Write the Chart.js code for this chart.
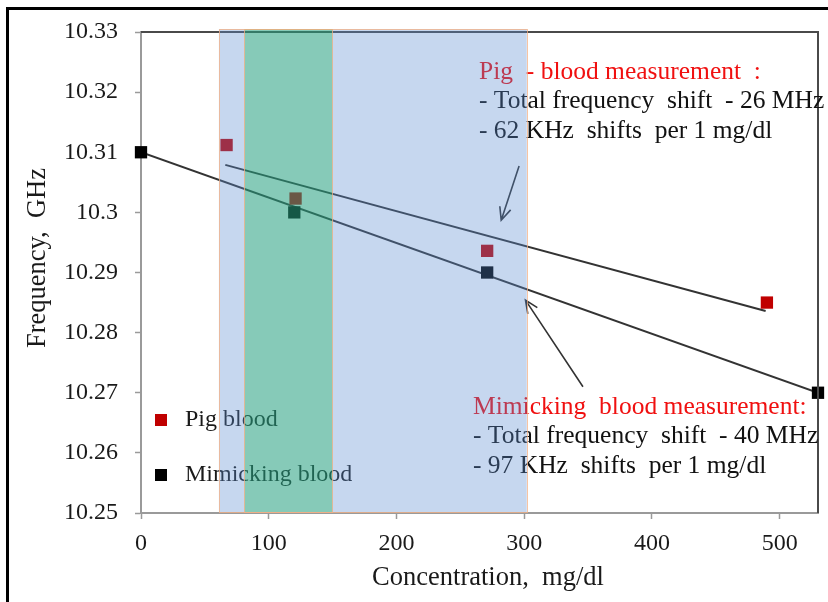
<!DOCTYPE html>
<html>
<head>
<meta charset="utf-8">
<title>Frequency vs concentration</title>
<script src="https://cdn.jsdelivr.net/npm/chart.js@4.4.1/dist/chart.umd.min.js"></script>
<style>
  html, body { margin: 0; padding: 0; background: #fff; }
  #wrap { width: 828px; height: 602px; }
</style>
</head>
<body>
<div id="wrap"><canvas id="freqChart" width="828" height="602"></canvas></div>
<script>
  "use strict";

  // measured points
  var concPig = [67, 121, 271, 490];
  var freqPig = [10.3112, 10.3023, 10.2936, 10.2850];
  var concMimic = [0, 120, 271, 530];
  var freqMimic = [10.31, 10.30, 10.29, 10.27];

  // linear fits (end points)
  var pigFitConc = [66, 489];
  var pigFitFreq = [10.3079, 10.2836];
  var mimicFitConc = [0, 530];
  var mimicFitFreq = [10.31, 10.27];

  // shaded concentration ranges
  var rangeWide = [61, 302];
  var rangeNarrow = [81, 150];

  // axes
  var xTicks = [0, 100, 200, 300, 400, 500];
  var yTicks = [10.25, 10.26, 10.27, 10.28, 10.29, 10.30, 10.31, 10.32, 10.33];

  // arrows: [tail conc, tail freq, tip conc, tip freq]
  var pigArrow = [296, 10.3077, 282, 10.2987];
  var mimicArrow = [346, 10.2710, 301, 10.2854];

  var pigNote = ["Pig  - blood measurement  :", "- Total frequency  shift  - 26 MHz", "- 62 KHz  shifts  per 1 mg/dl"];
  var mimicNote = ["Mimicking  blood measurement:", "- Total frequency  shift  - 40 MHz", "- 97 KHz  shifts  per 1 mg/dl"];

  var SERIF = "'Liberation Serif', 'Times New Roman', serif";

  function pts(xs, ys) {
    return xs.map(function (x, i) { return { x: x, y: ys[i] }; });
  }

  function arrow(ctx, x0, y0, x1, y1) {
    var a = Math.atan2(y1 - y0, x1 - x0), len = 14, spread = 0.42;
    ctx.beginPath();
    ctx.moveTo(x0, y0);
    ctx.lineTo(x1, y1);
    ctx.moveTo(x1 - len * Math.cos(a - spread), y1 - len * Math.sin(a - spread));
    ctx.lineTo(x1, y1);
    ctx.lineTo(x1 - len * Math.cos(a + spread), y1 - len * Math.sin(a + spread));
    ctx.stroke();
  }

  var decor = {
    id: "decor",
    beforeDraw: function (chart) {
      var ctx = chart.ctx;
      ctx.save();
      ctx.fillStyle = "#fff";
      ctx.fillRect(0, 0, chart.width, chart.height);
      ctx.strokeStyle = "#000";
      ctx.lineWidth = 3;
      ctx.strokeRect(7.5, 8.5, chart.width + 20, chart.height + 20);
      ctx.restore();
    },
    afterDatasetsDraw: function (chart) {
      var ctx = chart.ctx, a = chart.chartArea;
      var xs = chart.scales.x, ys = chart.scales.y;
      ctx.save();

      // top and right frame
      ctx.strokeStyle = "#4a4a4a";
      ctx.lineWidth = 2;
      ctx.beginPath();
      ctx.moveTo(a.left, a.top);
      ctx.lineTo(a.right, a.top);
      ctx.lineTo(a.right, a.bottom);
      ctx.stroke();

      // axis titles
      ctx.fillStyle = "#1a1a1a";
      ctx.font = "26.5px " + SERIF;
      ctx.textAlign = "center";
      ctx.textBaseline = "middle";
      ctx.fillText("Concentration,  mg/dl", 488, 578);
      ctx.save();
      ctx.translate(38, 258);
      ctx.rotate(-Math.PI / 2);
      ctx.fillText("Frequency,  GHz", 0, 0);
      ctx.restore();

      // legend
      ctx.font = "24px " + SERIF;
      ctx.textAlign = "left";
      ctx.fillStyle = "#c00000";
      ctx.fillRect(a.left + 14, 414, 12, 12);
      ctx.fillStyle = "#000";
      ctx.fillRect(a.left + 14, 469, 12, 12);
      ctx.fillStyle = "#1a1a1a";
      ctx.fillText("Pig blood", a.left + 44, 420);
      ctx.fillText("Mimicking blood", a.left + 44, 475);

      // notes
      function note(lines, x, y) {
        ctx.font = "25.5px " + SERIF;
        lines.forEach(function (t, i) {
          ctx.fillStyle = i === 0 ? "#f01010" : "#111";
          ctx.fillText(t, x, y + i * 29.5);
        });
      }
      note(pigNote, 479, 72);
      note(mimicNote, 473, 407);

      // arrows
      ctx.strokeStyle = "#333";
      ctx.lineWidth = 1.6;
      [pigArrow, mimicArrow].forEach(function (p) {
        arrow(ctx, xs.getPixelForValue(p[0]), ys.getPixelForValue(p[1]),
          xs.getPixelForValue(p[2]), ys.getPixelForValue(p[3]));
      });

      // shaded ranges on top of everything
      var top = a.top - 3, bottom = a.bottom - 1;
      function band(r, fill) {
        var l = xs.getPixelForValue(r[0]), rr = xs.getPixelForValue(r[1]);
        ctx.fillStyle = fill;
        ctx.fillRect(l, top, rr - l, bottom - top);
        ctx.strokeStyle = "rgba(244,176,132,0.75)";
        ctx.lineWidth = 1;
        ctx.strokeRect(Math.round(l) + 0.5, top + 0.5, Math.round(rr - l), bottom - top);
      }
      band(rangeWide, "rgba(90,139,209,0.345)");
      band(rangeNarrow, "rgba(0,173,68,0.32)");

      ctx.restore();
    }
  };

  var tickFont = { family: SERIF, size: 24 };

  new Chart(document.getElementById("freqChart"), {
    type: "scatter",
    data: {
      datasets: [
        { label: "Pig blood", data: pts(concPig, freqPig), pointStyle: "rect", pointRadius: 8.7,
          backgroundColor: "#c00000", borderWidth: 0, clip: false },
        { label: "Mimicking blood", data: pts(concMimic, freqMimic), pointStyle: "rect", pointRadius: 8.7,
          backgroundColor: "#000", borderWidth: 0, clip: false },
        { label: "pig fit", data: pts(pigFitConc, pigFitFreq), showLine: true, pointRadius: 0,
          borderColor: "#333", borderWidth: 2 },
        { label: "mimic fit", data: pts(mimicFitConc, mimicFitFreq), showLine: true, pointRadius: 0,
          borderColor: "#333", borderWidth: 2 }
      ]
    },
    options: {
      responsive: false,
      animation: false,
      devicePixelRatio: 1,
      layout: { padding: { left: 0, top: 32, right: 10, bottom: 0 } },
      plugins: { legend: { display: false }, tooltip: { enabled: false } },
      scales: {
        x: {
          type: "linear",
          min: xTicks[0],
          max: mimicFitConc[1],
          afterBuildTicks: function (s) { s.ticks = xTicks.map(function (v) { return { value: v }; }); },
          afterFit: function (s) { s.height = 89; },
          ticks: { font: tickFont, color: "#1a1a1a", padding: 10, maxRotation: 0 },
          grid: { drawOnChartArea: false, tickLength: 6, tickColor: "#9a9a9a", tickWidth: 1.5 },
          border: { color: "#9a9a9a", width: 2 }
        },
        y: {
          min: yTicks[0],
          max: yTicks[yTicks.length - 1],
          afterBuildTicks: function (s) { s.ticks = yTicks.map(function (v) { return { value: v }; }); },
          afterFit: function (s) { s.width = 141; },
          ticks: {
            font: tickFont, color: "#1a1a1a", padding: 17,
            callback: function (v) { return String(parseFloat(v.toFixed(2))); }
          },
          grid: { drawOnChartArea: false, tickLength: 6, tickColor: "#9a9a9a", tickWidth: 1.5 },
          border: { color: "#9a9a9a", width: 2 }
        }
      }
    },
    plugins: [decor]
  });
</script>
</body>
</html>
